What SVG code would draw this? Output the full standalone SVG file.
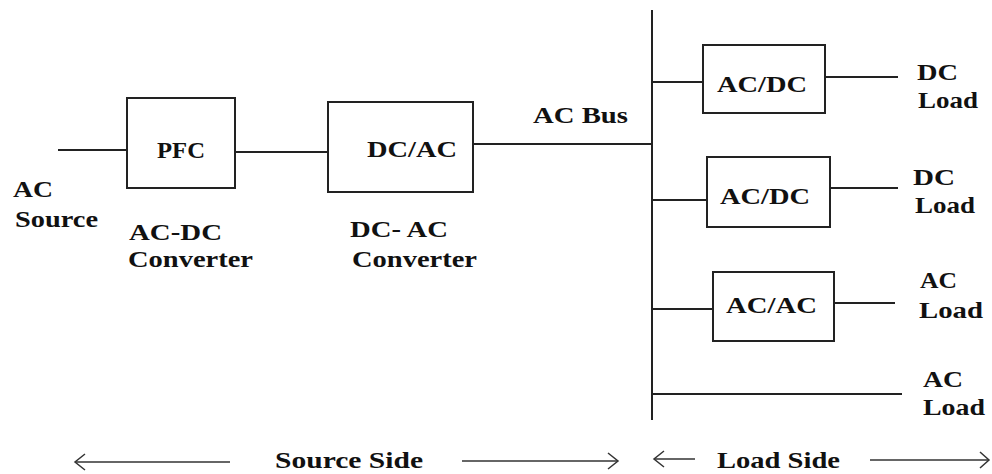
<svg xmlns="http://www.w3.org/2000/svg" width="992" height="474" viewBox="0 0 992 474">
<defs>
<style>
.ln{stroke:#222;stroke-width:2;fill:none}
.bx{stroke:#222;stroke-width:2;fill:#fff}
.ah{stroke:#333;stroke-width:1.5;fill:none}
text{font-family:"Liberation Serif","Times New Roman",serif;font-weight:bold;font-size:24px;fill:#111}
</style>
</defs>
<rect width="992" height="474" fill="#fff"/>
<g id="connectors">
<line class="ln" x1="58" y1="150" x2="127" y2="150"/>
<line class="ln" x1="235" y1="152" x2="328" y2="152"/>
<line class="ln" x1="473" y1="144" x2="652" y2="144"/>
<line class="ln" x1="652" y1="10" x2="652" y2="420"/>
<line class="ln" x1="652" y1="82" x2="703" y2="82"/>
<line class="ln" x1="825" y1="77" x2="898" y2="77"/>
<line class="ln" x1="652" y1="200" x2="707" y2="200"/>
<line class="ln" x1="830" y1="188" x2="898" y2="188"/>
<line class="ln" x1="652" y1="309" x2="713" y2="309"/>
<line class="ln" x1="834" y1="303" x2="895" y2="303"/>
<line class="ln" x1="652" y1="394" x2="902" y2="394"/>
</g>
<g id="pfc"><rect class="bx" x="127" y="98" width="108" height="90"/><text x="157" y="158" textLength="48" lengthAdjust="spacingAndGlyphs">PFC</text></g>
<g id="dcac"><rect class="bx" x="328" y="102" width="145" height="90"/><text x="367" y="157" textLength="90" lengthAdjust="spacingAndGlyphs">DC/AC</text></g>
<g id="acdc1"><rect class="bx" x="703" y="45" width="122" height="68"/><text x="717" y="92" textLength="90" lengthAdjust="spacingAndGlyphs">AC/DC</text></g>
<g id="acdc2"><rect class="bx" x="707" y="157" width="123" height="70"/><text x="720" y="204" textLength="90" lengthAdjust="spacingAndGlyphs">AC/DC</text></g>
<g id="acac"><rect class="bx" x="713" y="272" width="121" height="69"/><text x="726" y="313" textLength="91" lengthAdjust="spacingAndGlyphs">AC/AC</text></g>
<g id="labels">
<text x="13" y="197" textLength="40" lengthAdjust="spacingAndGlyphs">AC</text>
<text x="15" y="227" textLength="83" lengthAdjust="spacingAndGlyphs">Source</text>
<text x="129" y="240" textLength="93" lengthAdjust="spacingAndGlyphs">AC-DC</text>
<text x="128" y="267" textLength="125" lengthAdjust="spacingAndGlyphs">Converter</text>
<text x="350" y="237" textLength="98" lengthAdjust="spacingAndGlyphs">DC- AC</text>
<text x="352" y="267" textLength="125" lengthAdjust="spacingAndGlyphs">Converter</text>
<text x="533" y="123" textLength="95" lengthAdjust="spacingAndGlyphs">AC Bus</text>
<text x="917" y="80" textLength="41" lengthAdjust="spacingAndGlyphs">DC</text>
<text x="918" y="108" textLength="60" lengthAdjust="spacingAndGlyphs">Load</text>
<text x="913" y="185" textLength="42" lengthAdjust="spacingAndGlyphs">DC</text>
<text x="915" y="213" textLength="60" lengthAdjust="spacingAndGlyphs">Load</text>
<text x="920" y="288" textLength="37" lengthAdjust="spacingAndGlyphs">AC</text>
<text x="919" y="318" textLength="64" lengthAdjust="spacingAndGlyphs">Load</text>
<text x="923" y="387" textLength="40" lengthAdjust="spacingAndGlyphs">AC</text>
<text x="923" y="415" textLength="62" lengthAdjust="spacingAndGlyphs">Load</text>
<text x="275" y="468" textLength="148" lengthAdjust="spacingAndGlyphs">Source Side</text>
<text x="717" y="468" textLength="123" lengthAdjust="spacingAndGlyphs">Load Side</text>
</g>
<g id="side-arrows">
<line class="ah" x1="75" y1="462" x2="230" y2="462"/><polyline class="ah" points="85,454 75,462 85,470"/>
<line class="ah" x1="462" y1="461" x2="618" y2="461"/><polyline class="ah" points="608,453 618,461 608,469"/>
<line class="ah" x1="654" y1="459" x2="695" y2="459"/><polyline class="ah" points="664,451 654,459 664,467"/>
<line class="ah" x1="870" y1="460" x2="989" y2="460"/><polyline class="ah" points="980,452 989,460 980,468"/>
</g>
</svg>
